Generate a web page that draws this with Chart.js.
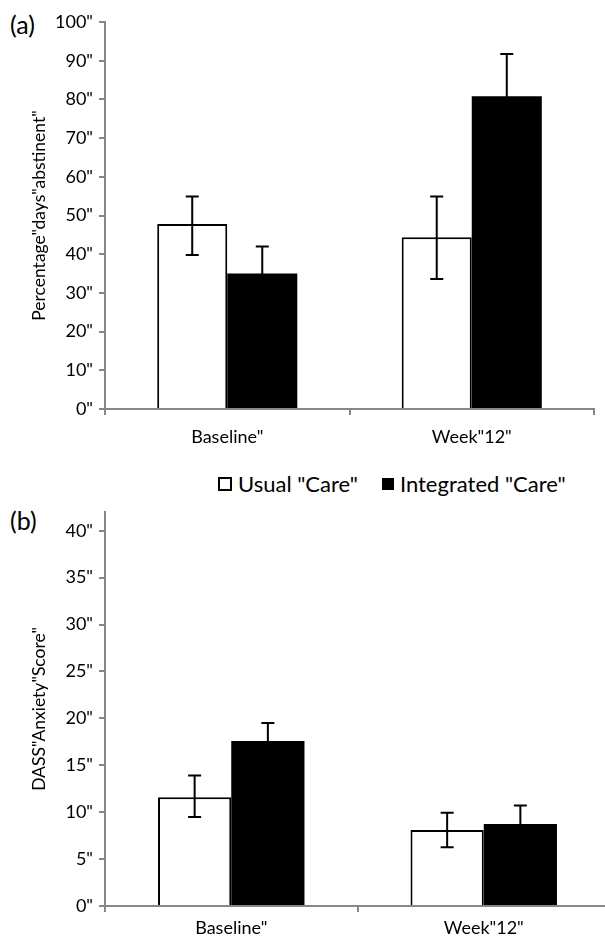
<!DOCTYPE html>
<html><head><meta charset="utf-8">
<script src="https://cdn.jsdelivr.net/npm/chart.js@4.4.1/dist/chart.umd.min.js"></script>
<style>
html,body{margin:0;padding:0;background:#fff;width:605px;height:944px;overflow:hidden;position:relative;font-family:Lato,sans-serif}
#ca{position:absolute;left:0;top:0}
#cb{position:absolute;left:0;top:490px}
.pl{position:absolute;left:10px;font:25px Lato,sans-serif;color:#000;line-height:28px}
#legend{position:absolute;top:471px;left:218px;display:flex;align-items:center;font:22px Lato,sans-serif;line-height:26px;white-space:pre;color:#000}
.sw{display:inline-block;box-sizing:border-box;margin-right:6px}
</style></head>
<body>
<div class="pl" style="top:10px">(a)</div>
<canvas id="ca" width="605" height="460"></canvas>
<div id="legend"><span class="sw" style="width:14px;height:14px;border:2px solid #000;background:#fff"></span><span id="l1"></span><span style="display:inline-block;width:24px"></span><span class="sw" style="width:12px;height:12px;background:#000"></span><span id="l2"></span></div>
<div class="pl" style="top:506px">(b)</div>
<canvas id="cb" width="615" height="454"></canvas>
<script>
// ---- data ----
const categoriesA = ['Baseline"', 'Week"12"'];
const categoriesB = ['Baseline"', 'Week"12"'];
const seriesNames = ['Usual"Care"', 'Integrated"Care"'];
const legendLabels = ['Usual "Care"', 'Integrated "Care"'];

const usualA = [47.8, 44.4];
const usualAErrHigh = [54.9, 54.9];
const usualAErrLow = [39.8, 33.6];
const integratedA = [35.0, 80.8];
const integratedAErrHigh = [42.0, 91.7];
const integratedAErrLow = [28.0, 69.9];

const usualB = [11.6, 8.1];
const usualBErrHigh = [13.9, 9.95];
const usualBErrLow = [9.5, 6.26];
const integratedB = [17.6, 8.75];
const integratedBErrHigh = [19.5, 10.7];
const integratedBErrLow = [15.7, 6.8];

const yTicksA = [0,10,20,30,40,50,60,70,80,90,100];
const yTickLabelsA = ['0"','10"','20"','30"','40"','50"','60"','70"','80"','90"','100"'];
const yTicksB = [0,5,10,15,20,25,30,35,40];
const yTickLabelsB = ['0"','5"','10"','15"','20"','25"','30"','35"','40"'];
const yTitleA = 'Percentage"days"abstinent"';
const yTitleB = 'DASS"Anxiety"Score"';

document.getElementById('l1').textContent = legendLabels[0];
document.getElementById('l2').textContent = legendLabels[1];

const AX = '#878787';
const F = {family:'Lato', size:18};
const FT = {family:'Lato', size:17.5};

const errorBars = {
  id:'errorBars',
  afterDatasetsDraw(chart){
    const ctx = chart.ctx, y = chart.scales.y;
    chart.data.datasets.forEach((ds, di) => {
      const meta = chart.getDatasetMeta(di);
      meta.data.forEach((bar, i) => {
        const x = bar.x;
        const hi = y.getPixelForValue(ds.errHigh[i]);
        const lo = y.getPixelForValue(ds.errLow[i]);
        ctx.save();
        ctx.strokeStyle = '#000'; ctx.lineWidth = 2;
        ctx.beginPath();
        ctx.moveTo(x, hi); ctx.lineTo(x, lo);
        ctx.moveTo(x-6.5, hi); ctx.lineTo(x+6.5, hi);
        ctx.moveTo(x-6.5, lo); ctx.lineTo(x+6.5, lo);
        ctx.stroke();
        ctx.restore();
      });
    });
  }
};

function makeChart(id, cats, u, uh, ul, g, gh, gl, yMax, yTicks, yLabels, yTitle, catPct, padRight, xH, xPad){
  return new Chart(document.getElementById(id), {
    type:'bar',
    data:{
      labels:cats,
      datasets:[
        {label:seriesNames[0], data:u, errHigh:uh, errLow:ul, backgroundColor:'#fff', borderColor:'#000', borderWidth:2, borderSkipped:'start'},
        {label:seriesNames[1], data:g, errHigh:gh, errLow:gl, backgroundColor:'#000', borderColor:'#000', borderWidth:0}
      ]
    },
    options:{
      responsive:false, animation:false, devicePixelRatio:1,
      layout:{padding:{top:22, right:padRight, left:0, bottom:0}},
      plugins:{legend:{display:false}, tooltip:{enabled:false}},
      datasets:{bar:{categoryPercentage:catPct, barPercentage:1}},
      scales:{
        x:{
          offset:true,
          grid:{display:true, offset:true, drawOnChartArea:false, drawTicks:true, tickLength:6, color:AX, lineWidth:2},
          border:{color:AX, width:2},
          ticks:{font:F, color:'#000', padding:xPad, maxRotation:0},
          afterFit(s){ s.height = xH; }
        },
        y:{
          min:0, max:yMax,
          afterBuildTicks(s){ s.ticks = yTicks.map(v => ({value:v})); },
          grid:{display:true, drawOnChartArea:false, drawTicks:true, tickLength:6, color:AX, lineWidth:2},
          border:{color:AX, width:2},
          ticks:{font:F, color:'#000', padding:6, callback:(v, i) => yLabels[i]},
          title:{display:true, text:yTitle, font:FT, color:'#000', padding:{top:29, bottom:0}},
          afterFit(s){ s.width = 105; }
        }
      }
    },
    plugins:[errorBars]
  });
}

makeChart('ca', categoriesA, usualA, usualAErrHigh, usualAErrLow, integratedA, integratedAErrHigh, integratedAErrLow,
  100, yTicksA, yTickLabelsA, yTitleA, 0.573, 11, 51, 11);
makeChart('cb', categoriesB, usualB, usualBErrHigh, usualBErrLow, integratedB, integratedBErrHigh, integratedBErrLow,
  42, yTicksB, yTickLabelsB, yTitleB, 0.58, 5, 38, 5);
</script>
</body></html>
